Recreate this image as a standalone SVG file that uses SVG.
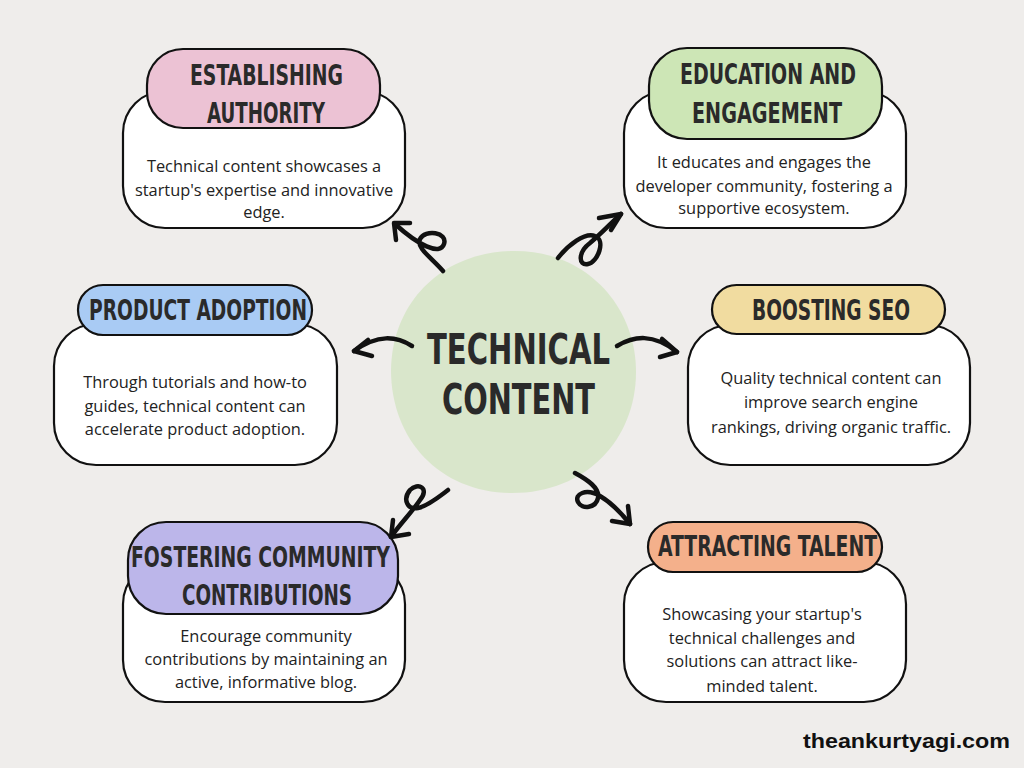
<svg xmlns="http://www.w3.org/2000/svg" width="1024" height="768" viewBox="0 0 1024 768">
<defs>
<style>
.box{fill:#ffffff;stroke:#111;stroke-width:2.2}
.pill{stroke:#111;stroke-width:2.2}
.title{font-family:"DejaVu Sans Condensed","Liberation Sans Narrow","DejaVu Sans",sans-serif;font-stretch:condensed;font-weight:bold;font-size:28px;fill:#2a2a2a}
.big{font-size:42px}
.body{font-family:"Open Sans","Noto Sans",sans-serif;font-size:16.4px;fill:#222;text-anchor:middle}
.arr{fill:none;stroke:#111;stroke-width:4.5;stroke-linecap:round;stroke-linejoin:round}
</style>
</defs>
<rect width="1024" height="768" fill="#efedeb"/>

<g id="center">
<path d="M513,251 C585,250 636,305 636,372 C636,440 585,494 510,493 C440,492 391,440 391,370 C392,302 442,252 513,251 Z" fill="#d9e6cb"/>
<text class="title big" x="427" y="364" textLength="183" lengthAdjust="spacingAndGlyphs">TECHNICAL</text>
<text class="title big" x="442" y="414" textLength="153" lengthAdjust="spacingAndGlyphs">CONTENT</text>
</g>

<g id="establishing-authority">
<rect class="box" x="123" y="91" width="282" height="137" rx="42"/>
<rect class="pill" x="147" y="49" width="233" height="79" rx="36" fill="#ecc2d4"/>
<text class="title" x="190" y="85" textLength="153" lengthAdjust="spacingAndGlyphs">ESTABLISHING</text>
<text class="title" x="207" y="123" textLength="118" lengthAdjust="spacingAndGlyphs">AUTHORITY</text>
<text class="body" x="264" y="172">Technical content showcases a</text>
<text class="body" x="264" y="196">startup's expertise and innovative</text>
<text class="body" x="264" y="218">edge.</text>
</g>

<g id="education-engagement">
<rect class="box" x="624" y="91" width="282" height="137" rx="42"/>
<rect class="pill" x="649" y="48" width="233" height="91" rx="38" fill="#cde6b6"/>
<text class="title" x="680" y="84" textLength="176" lengthAdjust="spacingAndGlyphs">EDUCATION AND</text>
<text class="title" x="692" y="123" textLength="150" lengthAdjust="spacingAndGlyphs">ENGAGEMENT</text>
<text class="body" x="764" y="168">It educates and engages the</text>
<text class="body" x="764" y="192">developer community, fostering a</text>
<text class="body" x="764" y="214">supportive ecosystem.</text>
</g>

<g id="product-adoption">
<rect class="box" x="54" y="324" width="283" height="141" rx="42"/>
<rect class="pill" x="78" y="285" width="234" height="50" rx="25" fill="#a9cbf4"/>
<text class="title" x="89" y="320" textLength="218" lengthAdjust="spacingAndGlyphs">PRODUCT ADOPTION</text>
<text class="body" x="195" y="388">Through tutorials and how-to</text>
<text class="body" x="195" y="412">guides, technical content can</text>
<text class="body" x="195" y="435">accelerate product adoption.</text>
</g>

<g id="boosting-seo">
<rect class="box" x="688" y="325" width="282" height="140" rx="42"/>
<rect class="pill" x="712" y="285" width="233" height="49" rx="24.5" fill="#f1dca0"/>
<text class="title" x="752" y="320" textLength="158" lengthAdjust="spacingAndGlyphs">BOOSTING SEO</text>
<text class="body" x="831" y="384">Quality technical content can</text>
<text class="body" x="831" y="408">improve search engine</text>
<text class="body" x="831" y="433">rankings, driving organic traffic.</text>
</g>

<g id="fostering-community">
<rect class="box" x="123" y="562" width="282" height="140" rx="42"/>
<rect class="pill" x="128" y="522" width="270" height="92" rx="38" fill="#bcb6ea"/>
<text class="title" x="131" y="567" textLength="259" lengthAdjust="spacingAndGlyphs">FOSTERING COMMUNITY</text>
<text class="title" x="182" y="605" textLength="170" lengthAdjust="spacingAndGlyphs">CONTRIBUTIONS</text>
<text class="body" x="266" y="642">Encourage community</text>
<text class="body" x="266" y="665">contributions by maintaining an</text>
<text class="body" x="266" y="688">active, informative blog.</text>
</g>

<g id="attracting-talent">
<rect class="box" x="624" y="562" width="282" height="140" rx="42"/>
<rect class="pill" x="648" y="522" width="234" height="50" rx="25" fill="#f4b08b"/>
<text class="title" x="658" y="556" textLength="219" lengthAdjust="spacingAndGlyphs">ATTRACTING TALENT</text>
<text class="body" x="762" y="620">Showcasing your startup's</text>
<text class="body" x="762" y="644">technical challenges and</text>
<text class="body" x="762" y="667">solutions can attract like-</text>
<text class="body" x="762" y="692">minded talent.</text>
</g>

<g id="connectors">
<path class="arr" d="M443,271 C432,258 416,248 420,239 C425,229 448,232 444,244 C440,256 418,245 395,224"/>
<path class="arr" d="M394,223 L410,223 M394,223 L396,240"/>
<path class="arr" d="M558,258 C568,245 585,232 595,236 C606,240 598,262 588,264 C578,266 578,252 590,243 C600,235 612,222 621,214"/>
<path class="arr" d="M621,214 L599,218 M621,214 L611,230"/>
<path class="arr" d="M412,346 C396,336 378,334 354,351"/>
<path class="arr" d="M354,351 L368,340 M354,351 L372,356"/>
<path class="arr" d="M617,346 C634,336 653,333 677,352"/>
<path class="arr" d="M677,352 L662,339 M677,352 L660,357"/>
<path class="arr" d="M448,490 C440,496 428,506 418,508 C408,510 402,500 410,490 C418,482 430,488 420,500 C412,512 400,524 391,537"/>
<path class="arr" d="M391,537 L393,520 M391,537 L409,534"/>
<path class="arr" d="M575,473 C588,480 600,488 598,498 C596,508 582,510 578,502 C574,494 586,488 600,496 C612,503 622,514 630,524"/>
<path class="arr" d="M630,524 L612,521 M630,524 L628,506"/>
</g>

<text x="803" y="748" font-family="Liberation Sans, Arial, sans-serif" font-weight="bold" font-size="21" fill="#111" textLength="207" lengthAdjust="spacingAndGlyphs">theankurtyagi.com</text>
</svg>
